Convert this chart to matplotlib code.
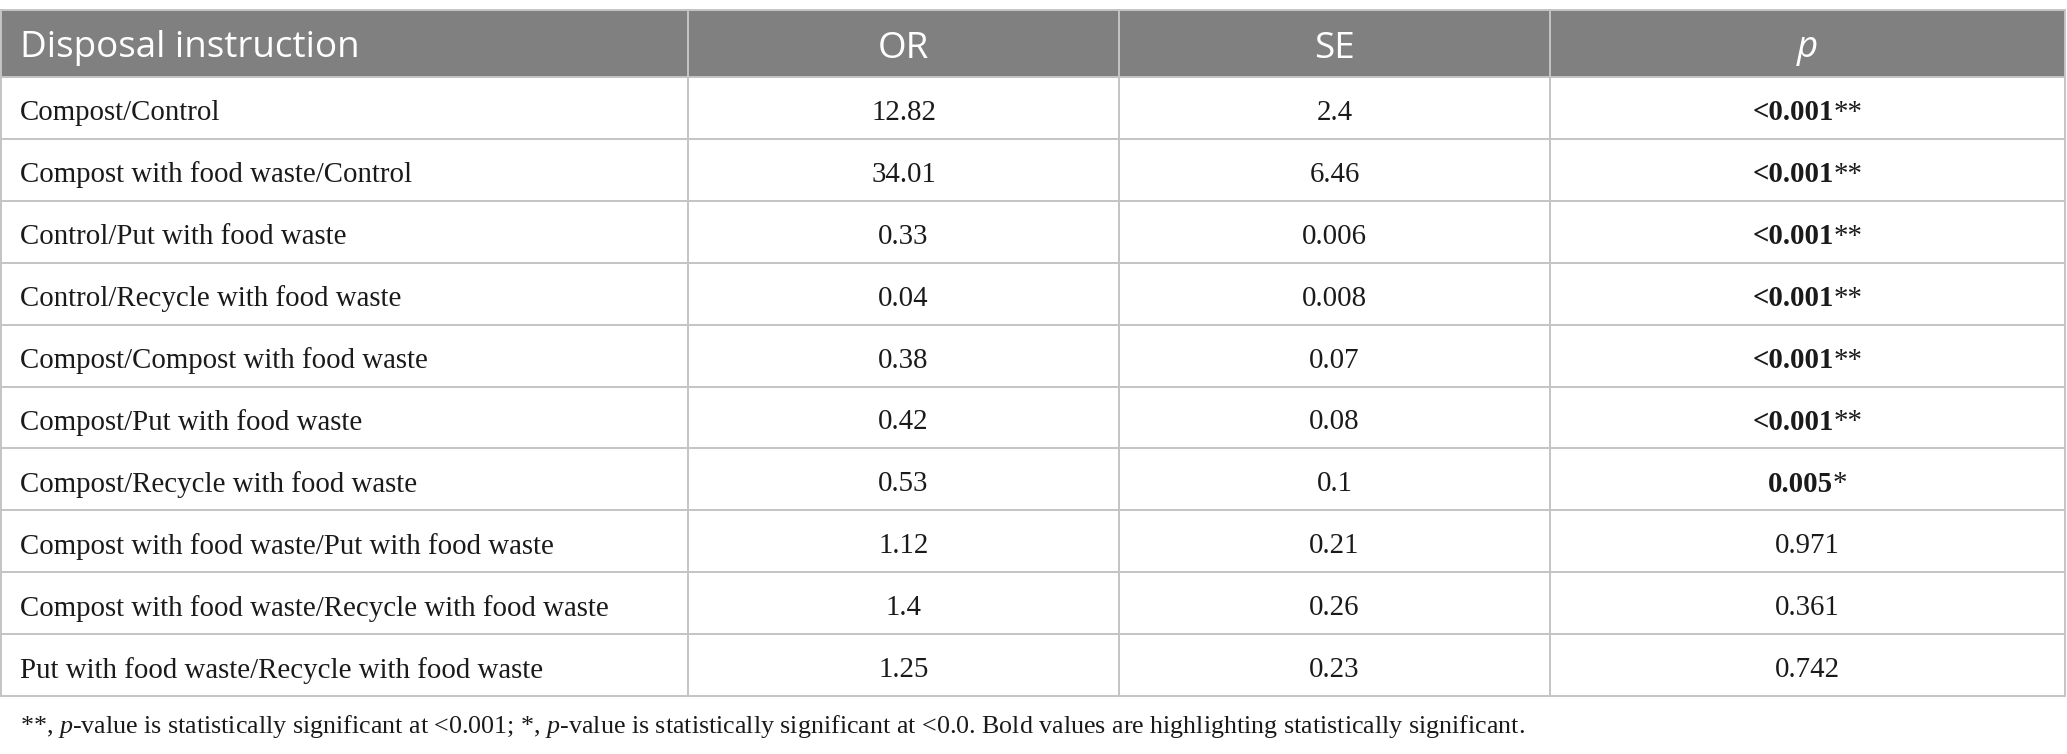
import matplotlib.pyplot as plt
from matplotlib.patches import Rectangle

headers = ["Disposal instruction", "OR", "SE", "p"]
comparisons = [
    "Compost/Control",
    "Compost with food waste/Control",
    "Control/Put with food waste",
    "Control/Recycle with food waste",
    "Compost/Compost with food waste",
    "Compost/Put with food waste",
    "Compost/Recycle with food waste",
    "Compost with food waste/Put with food waste",
    "Compost with food waste/Recycle with food waste",
    "Put with food waste/Recycle with food waste",
]
odds_ratios = ["12.82", "34.01", "0.33", "0.04", "0.38", "0.42", "0.53", "1.12", "1.4", "1.25"]
std_errors = ["2.4", "6.46", "0.006", "0.008", "0.07", "0.08", "0.1", "0.21", "0.26", "0.23"]
p_values = ["<0.001", "<0.001", "<0.001", "<0.001", "<0.001", "<0.001", "0.005", "0.971", "0.361", "0.742"]
p_stars = ["**", "**", "**", "**", "**", "**", "*", "", "", ""]
significant = [True] * 7 + [False] * 3

plt.rcParams['mathtext.fontset'] = 'custom'
plt.rcParams['mathtext.rm'] = 'Liberation Serif'
plt.rcParams['mathtext.it'] = 'Liberation Serif:italic'

W, H = 2067, 754
fig = plt.figure(figsize=(W / 100, H / 100), dpi=100)
ax = fig.add_axes([0, 0, 1, 1])
ax.set_xlim(0, W)
ax.set_ylim(H, 0)
ax.axis("off")

col_edges = [1, 688, 1119, 1550, 2065]
top = 10
head_bot = 77
row_h = 61.9
n = len(comparisons)
bottom = head_bot + n * row_h
grid = "#c4c4c4"

# header band
ax.add_patch(Rectangle((col_edges[0], top), col_edges[-1] - col_edges[0], head_bot - top,
                       facecolor="#808080", edgecolor="none"))

# grid
for i in range(n + 1):
    y = head_bot + i * row_h
    ax.plot([col_edges[0], col_edges[-1]], [y, y], color=grid, lw=1.4)
ax.plot([col_edges[0], col_edges[-1]], [top, top], color=grid, lw=1.4)
for x in col_edges:
    ax.plot([x, x], [top, bottom], color=grid, lw=1.4)

HEAD_FONT = "Open Sans"
BODY_FONT = "Liberation Serif"
hs = 26.5
bs = 20.8

hy = (top + head_bot) / 2 + 5
ax.text(col_edges[0] + 19, hy, headers[0], color="white", fontsize=hs, family=HEAD_FONT,
        ha="left", va="center")
for j in range(1, 4):
    cx = (col_edges[j] + col_edges[j + 1]) / 2
    ax.text(cx, hy, headers[j], color="white", fontsize=hs, family=HEAD_FONT,
            ha="center", va="center", style="italic" if j == 3 else "normal")

renderer = fig.canvas.get_renderer()


def runs_centered(cx, cy, parts):
    # parts: list of (text, weight)
    objs = []
    widths = []
    for txt, wt in parts:
        t = ax.text(0, cy, txt, fontsize=bs, family=BODY_FONT, weight=wt,
                    ha="left", va="center_baseline", color="#1a1a1a")
        objs.append(t)
        widths.append(t.get_window_extent(renderer).width if txt else 0)
    x = cx - sum(widths) / 2
    for t, w in zip(objs, widths):
        t.set_x(x)
        x += w


for i in range(n):
    cy = head_bot + (i + 0.5) * row_h + 2
    ax.text(col_edges[0] + 19, cy, comparisons[i], fontsize=bs, family=BODY_FONT,
            ha="left", va="center_baseline", color="#1a1a1a")
    runs_centered((col_edges[1] + col_edges[2]) / 2, cy, [(odds_ratios[i], "normal")])
    runs_centered((col_edges[2] + col_edges[3]) / 2, cy, [(std_errors[i], "normal")])
    wt = "bold" if significant[i] else "normal"
    runs_centered((col_edges[3] + col_edges[4]) / 2, cy, [(p_values[i], wt), (p_stars[i], "normal")])

note = (r"**, $\mathit{p}$-value is statistically significant at <0.001; *, $\mathit{p}$-value is "
        r"statistically significant at <0.0. Bold values are highlighting statistically significant.")
ax.text(col_edges[0] + 19, 726, note, fontsize=18.7, family=BODY_FONT, ha="left", va="center",
        color="#1a1a1a")

fig.savefig("out.png", dpi=100)
